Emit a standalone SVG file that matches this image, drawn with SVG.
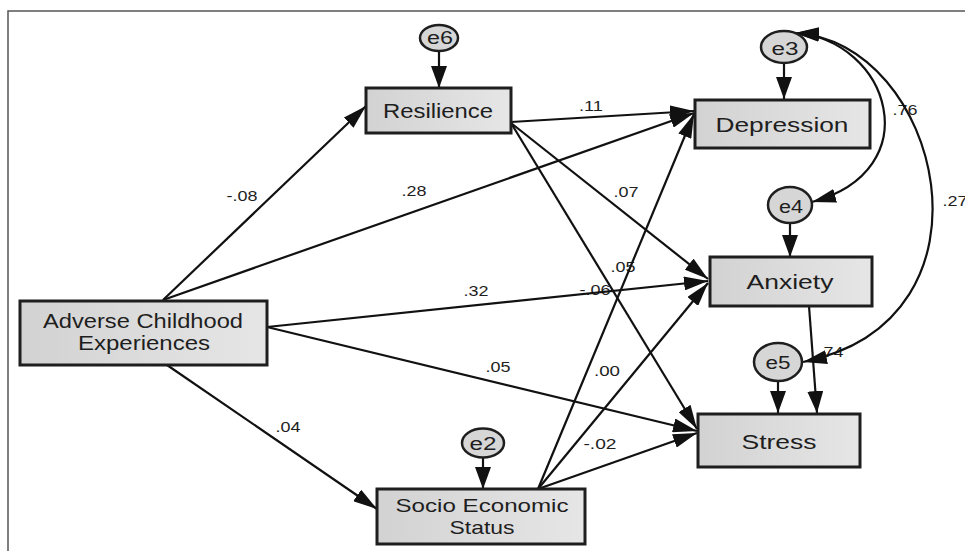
<svg xmlns="http://www.w3.org/2000/svg" width="965" height="551" viewBox="0 0 965 551">
<defs>
<linearGradient id="boxfill" x1="0" y1="0" x2="1" y2="0">
<stop offset="0" stop-color="#d2d2d2"/>
<stop offset="1" stop-color="#e6e6e6"/>
</linearGradient>
<marker id="arr" markerUnits="userSpaceOnUse" markerWidth="26" markerHeight="14" refX="24" refY="7" orient="auto-start-reverse" viewBox="0 0 26 14">
<path d="M0,0 L24,7 L0,14 z" fill="#111"/>
</marker>
<marker id="arrv" markerUnits="userSpaceOnUse" markerWidth="22" markerHeight="16" refX="22" refY="8" orient="auto" viewBox="0 0 22 16">
<path d="M0,0 L22,8 L0,16 z" fill="#111"/>
</marker>
</defs>
<style>
.box{fill:url(#boxfill);stroke:#1e1e1e;stroke-width:3}
.err{fill:#d6d6d6;stroke:#1e1e1e;stroke-width:2.5}
.nl{font-family:"Liberation Sans",Arial,sans-serif;font-size:21px;fill:#1e1e1e;text-anchor:middle}
.nl2{font-family:"Liberation Sans",Arial,sans-serif;font-size:19px;fill:#1e1e1e;text-anchor:middle}
.el{font-family:"Liberation Sans",Arial,sans-serif;font-size:18px;fill:#1e1e1e;text-anchor:middle}
.lb{font-family:"Liberation Sans",Arial,sans-serif;font-size:15px;fill:#1e1e1e;text-anchor:middle}
.e{fill:none;stroke:#111;stroke-width:2.2;marker-end:url(#arr)}
.ev{fill:none;stroke:#111;stroke-width:2.2;marker-end:url(#arrv)}
.cov{fill:none;stroke:#111;stroke-width:2.2;marker-start:url(#arr);marker-end:url(#arr)}
</style>
<rect width="965" height="551" fill="#fff"/>
<path d="M8,551 L8,11 L965,11" fill="none" stroke="#555" stroke-width="1.5"/>

<g id="labels">
<text class="lb" x="242" y="201" textLength="31" lengthAdjust="spacingAndGlyphs">-.08</text>
<text class="lb" x="414" y="196" textLength="25" lengthAdjust="spacingAndGlyphs">.28</text>
<text class="lb" x="591" y="111" textLength="24" lengthAdjust="spacingAndGlyphs">.11</text>
<text class="lb" x="626" y="197" textLength="25" lengthAdjust="spacingAndGlyphs">.07</text>
<text class="lb" x="623" y="272" textLength="25" lengthAdjust="spacingAndGlyphs">.05</text>
<text class="lb" x="595" y="295" textLength="31" lengthAdjust="spacingAndGlyphs">-.06</text>
<text class="lb" x="476" y="296" textLength="25" lengthAdjust="spacingAndGlyphs">.32</text>
<text class="lb" x="498" y="372" textLength="25" lengthAdjust="spacingAndGlyphs">.05</text>
<text class="lb" x="607" y="376" textLength="26" lengthAdjust="spacingAndGlyphs">.00</text>
<text class="lb" x="288" y="432" textLength="25" lengthAdjust="spacingAndGlyphs">.04</text>
<text class="lb" x="600" y="449" textLength="33" lengthAdjust="spacingAndGlyphs">-.02</text>
<text class="lb" x="905" y="115" textLength="25" lengthAdjust="spacingAndGlyphs">.76</text>
<text class="lb" x="955" y="206" textLength="25" lengthAdjust="spacingAndGlyphs">.27</text>
<text class="lb" x="831" y="357" textLength="25" lengthAdjust="spacingAndGlyphs">.74</text>
</g>

<g id="connectors">
<line class="e" x1="163" y1="300" x2="366" y2="106"/>
<line class="e" x1="163" y1="300" x2="694" y2="113"/>
<line class="e" x1="267" y1="327" x2="708" y2="281"/>
<line class="e" x1="267" y1="327" x2="697" y2="431"/>
<line class="e" x1="167" y1="365" x2="377" y2="509"/>
<line class="e" x1="511" y1="122" x2="694" y2="111"/>
<line class="e" x1="511" y1="123" x2="708" y2="279"/>
<line class="e" x1="511" y1="123" x2="697" y2="429"/>
<line class="e" x1="538" y1="489" x2="694" y2="114"/>
<line class="e" x1="538" y1="489" x2="708" y2="283"/>
<line class="e" x1="538" y1="489" x2="697" y2="433"/>
<line class="ev" x1="809" y1="306" x2="817" y2="413"/>
<line class="ev" x1="439" y1="50" x2="439" y2="88"/>
<line class="ev" x1="784" y1="63" x2="784" y2="99"/>
<line class="ev" x1="790" y1="223" x2="790" y2="257"/>
<line class="ev" x1="778" y1="382" x2="778" y2="413"/>
<line class="ev" x1="483" y1="457" x2="483" y2="489"/>
<path class="cov" d="M795,33 C890,40 930,170 812,202"/>
<path class="cov" d="M795,33 C940,40 1010,320 803,362"/>
</g>

<g id="ace">
<rect class="box" x="20" y="301" width="247" height="64"/>
<text class="nl" x="143" y="328" textLength="200" lengthAdjust="spacingAndGlyphs">Adverse Childhood</text>
<text class="nl" x="144" y="350" textLength="132" lengthAdjust="spacingAndGlyphs">Experiences</text>
</g>
<g id="resilience">
<rect class="box" x="366" y="88" width="145" height="45"/>
<text class="nl" x="438" y="118" textLength="110" lengthAdjust="spacingAndGlyphs">Resilience</text>
</g>
<g id="ses">
<rect class="box" x="377" y="489" width="208" height="55"/>
<text class="nl2" x="482" y="512" textLength="173" lengthAdjust="spacingAndGlyphs">Socio Economic</text>
<text class="nl2" x="482" y="534" textLength="65" lengthAdjust="spacingAndGlyphs">Status</text>
</g>
<g id="depression">
<rect class="box" x="695" y="100" width="175" height="48"/>
<text class="nl" x="782" y="132" textLength="133" lengthAdjust="spacingAndGlyphs">Depression</text>
</g>
<g id="anxiety">
<rect class="box" x="710" y="257" width="162" height="49"/>
<text class="nl" x="790" y="289" textLength="87" lengthAdjust="spacingAndGlyphs">Anxiety</text>
</g>
<g id="stress">
<rect class="box" x="698" y="414" width="162" height="53"/>
<text class="nl" x="779" y="449" textLength="75" lengthAdjust="spacingAndGlyphs">Stress</text>
</g>
<g id="e6">
<ellipse class="err" cx="439" cy="38" rx="19" ry="13"/>
<text class="el" x="440" y="44" textLength="26" lengthAdjust="spacingAndGlyphs">e6</text>
</g>
<g id="e3">
<ellipse class="err" cx="784" cy="47" rx="23" ry="16"/>
<text class="el" x="785" y="55" textLength="27" lengthAdjust="spacingAndGlyphs">e3</text>
</g>
<g id="e4">
<ellipse class="err" cx="790" cy="205" rx="22" ry="18"/>
<text class="el" x="791" y="213" textLength="24" lengthAdjust="spacingAndGlyphs">e4</text>
</g>
<g id="e5">
<ellipse class="err" cx="778" cy="362" rx="24" ry="19"/>
<text class="el" x="778" y="369" textLength="25" lengthAdjust="spacingAndGlyphs">e5</text>
</g>
<g id="e2">
<ellipse class="err" cx="483" cy="443" rx="21" ry="14.5"/>
<text class="el" x="483" y="450" textLength="27" lengthAdjust="spacingAndGlyphs">e2</text>
</g>
</svg>
